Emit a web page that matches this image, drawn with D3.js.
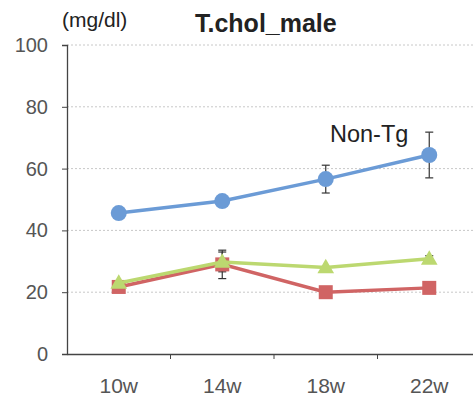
<!DOCTYPE html>
<html>
<head>
<meta charset="utf-8">
<script src="https://cdn.jsdelivr.net/npm/d3@7"></script>
<style>
  body { margin: 0; background: #fff; }
  svg { display: block; font-family: "Liberation Sans", Arial, sans-serif; }
</style>
</head>
<body>
<div id="chart"></div>
<script>
// data
var weeks = ["10w", "14w", "18w", "22w"];
var yTicks = [0, 20, 40, 60, 80, 100];

var nonTg = [45.6, 49.5, 56.6, 64.4];
var nonTgErr = [0, 0, 4.5, 7.4];

var redSeries = [21.7, 29.0, 20.0, 21.4];
var redErr = [0, 4.6, 0, 0];

var greenSeries = [23.0, 29.8, 28.0, 30.8];
var greenErr = [0, 3.2, 0, 1.0];

var width = 473, height = 400;
var margin = { left: 67, top: 45, bottom: 46 };

var svg = d3.select("#chart").append("svg")
  .attr("width", width)
  .attr("height", height);

var x = d3.scaleBand()
  .domain(weeks)
  .range([margin.left, 481]);

var y = d3.scaleLinear()
  .domain([0, 100])
  .range([height - margin.bottom, margin.top]);

// gridlines
svg.append("g")
  .selectAll("line")
  .data(yTicks.filter(d => d > 0))
  .enter().append("line")
  .attr("x1", margin.left)
  .attr("x2", width)
  .attr("y1", d => y(d))
  .attr("y2", d => y(d))
  .attr("stroke", "#c8c8c8")
  .attr("stroke-dasharray", "2,2");

// y axis
var yAxis = svg.append("g")
  .attr("transform", "translate(" + margin.left + ",0)")
  .call(d3.axisLeft(y).tickValues(yTicks).tickSize(5).tickPadding(14));
yAxis.select(".domain").attr("stroke", "#444").attr("stroke-width", 1.3);
yAxis.selectAll(".tick line").attr("stroke", "#444");
yAxis.selectAll("text").attr("font-size", "20px").attr("fill", "#555");

// x axis
var xAxis = svg.append("g")
  .attr("transform", "translate(0," + y(0) + ")")
  .call(d3.axisBottom(x).tickSize(0).tickPadding(24));
xAxis.select(".domain").attr("stroke", "#444").attr("stroke-width", 1.3);
xAxis.selectAll("text").attr("font-size", "21px").attr("fill", "#555");

// tick marks between categories
svg.append("g")
  .selectAll("line")
  .data(weeks.slice(1))
  .enter().append("line")
  .attr("x1", d => x(d))
  .attr("x2", d => x(d))
  .attr("y1", y(0))
  .attr("y2", y(0) + 5)
  .attr("stroke", "#444");

var cx = d => x(d) + x.bandwidth() / 2;

function drawErrors(vals, errs) {
  var g = svg.append("g").attr("stroke", "#333").attr("stroke-width", 1.2);
  weeks.forEach(function (w, i) {
    if (!errs[i]) return;
    var xc = cx(w);
    g.append("line").attr("x1", xc).attr("x2", xc)
      .attr("y1", y(vals[i] + errs[i])).attr("y2", y(vals[i] - errs[i]));
    [vals[i] + errs[i], vals[i] - errs[i]].forEach(function (v) {
      g.append("line").attr("x1", xc - 4).attr("x2", xc + 4)
        .attr("y1", y(v)).attr("y2", y(v));
    });
  });
}

function drawLine(vals, color) {
  svg.append("path")
    .datum(vals)
    .attr("fill", "none")
    .attr("stroke", color)
    .attr("stroke-width", 3.5)
    .attr("d", d3.line().x((d, i) => cx(weeks[i])).y(d => y(d)));
}

drawErrors(redSeries, redErr);
drawErrors(greenSeries, greenErr);
drawErrors(nonTg, nonTgErr);

// red squares
drawLine(redSeries, "#d06464");
svg.append("g").selectAll("rect")
  .data(redSeries).enter().append("rect")
  .attr("x", (d, i) => cx(weeks[i]) - 7)
  .attr("y", d => y(d) - 7)
  .attr("width", 14).attr("height", 14)
  .attr("fill", "#d06464");

// green triangles
drawLine(greenSeries, "#bcd870");
svg.append("g").selectAll("path")
  .data(greenSeries).enter().append("path")
  .attr("d", d3.symbol().type(d3.symbolTriangle).size(120))
  .attr("transform", (d, i) => "translate(" + cx(weeks[i]) + "," + (y(d) + 1) + ")")
  .attr("fill", "#bcd870");

// blue circles
drawLine(nonTg, "#6b9bd6");
svg.append("g").selectAll("circle")
  .data(nonTg).enter().append("circle")
  .attr("cx", (d, i) => cx(weeks[i]))
  .attr("cy", d => y(d))
  .attr("r", 8)
  .attr("fill", "#6b9bd6");

// texts
svg.append("text")
  .attr("x", 62).attr("y", 27)
  .attr("font-size", "21px").attr("fill", "#222")
  .text("(mg/dl)");

svg.append("text")
  .attr("x", 195).attr("y", 32)
  .attr("font-size", "25px").attr("font-weight", "bold").attr("fill", "#222")
  .text("T.chol_male");

svg.append("text")
  .attr("x", 330).attr("y", 142)
  .attr("font-size", "23.5px").attr("fill", "#222")
  .text("Non-Tg");
</script>
</body>
</html>
